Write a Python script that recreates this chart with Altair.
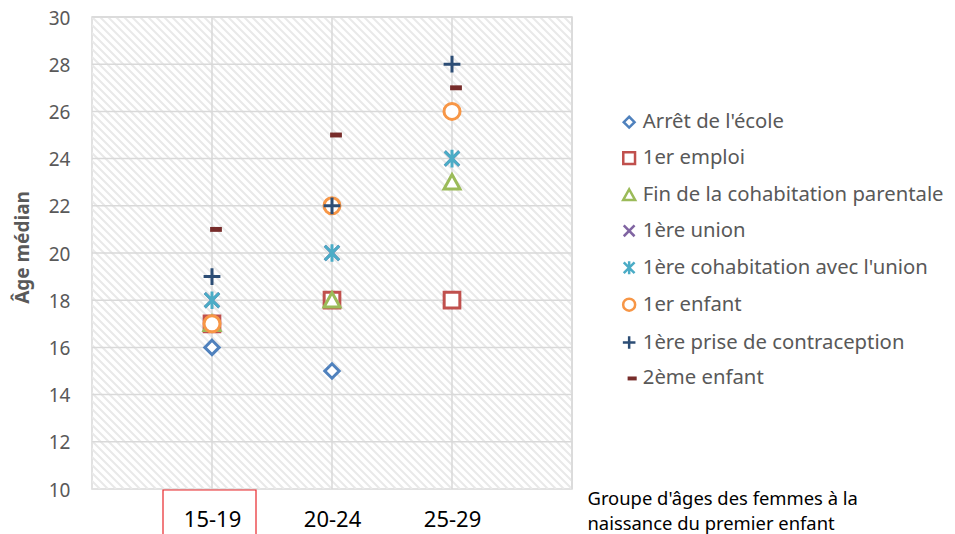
import json
import altair as alt
import pandas as pd

# ---------------- data ----------------
groups = ["15-19", "20-24", "25-29"]
series = [
    "Arrêt de l'école",
    "1er emploi",
    "Fin de la cohabitation parentale",
    "1ère union",
    "1ère cohabitation avec l'union",
    "1er enfant",
    "1ère prise de contraception",
    "2ème enfant",
]
arret_ecole = [16, 15, 18]
premier_emploi = [17, 18, 18]
fin_cohabitation = [17, 18, 23]
premiere_union = [18, 20, 24]
premiere_cohabitation = [18, 20, 24]
premier_enfant = [17, 22, 26]
contraception = [19, 22, 28]
deuxieme_enfant = [21, 25, 27]
y_ticks = [10, 12, 14, 16, 18, 20, 22, 24, 26, 28, 30]

# ---------------- styles ----------------
colors = ["#4F81BD", "#C0504D", "#9BBB59", "#8064A2", "#4BACC6", "#F79646", "#2C4D75", "#772C2A"]
fills = ["white", "white", "white", "white", "white", "white", "white", "#772C2A"]
shapes = [
    "M0,-0.9L0.9,0L0,0.9L-0.9,0Z",                                   # diamond
    "M-0.98,-0.98L0.98,-0.98L0.98,0.98L-0.98,0.98Z",                  # square
    "M0,-0.95L1,0.85L-1,0.85Z",                                       # triangle
    "M-0.9,-0.9L0.9,0.9M0.9,-0.9L-0.9,0.9",                           # x
    "M-0.9,-0.9L0.9,0.9M0.9,-0.9L-0.9,0.9M0,-1.1L0,1.1",              # star
    "circle",                                                         # circle
    "M-1.05,0L1.05,0M0,-1.05L0,1.05",                                 # plus
    "M-0.05,-0.12L1.05,-0.12L1.05,0.12L-0.05,0.12Z",                  # dash
]

W, H = 480, 472
FONT = "Noto Sans"

values = [arret_ecole, premier_emploi, fin_cohabitation, premiere_union,
          premiere_cohabitation, premier_enfant, contraception, deuxieme_enfant]
rows = []
for s, vals in zip(series, values):
    for i, (g, v) in enumerate(zip(groups, vals)):
        rows.append({"series": s, "group": g, "pos": i + 1, "age": v})
df = pd.DataFrame(rows)

xscale = alt.Scale(domain=[0, len(groups) + 1], nice=False, zero=False)
yscale = alt.Scale(domain=[y_ticks[0], y_ticks[-1]], nice=False, zero=False)

label_expr = json.dumps([""] + groups + [""]) + "[datum.value]"

x_axis = alt.Axis(
    values=[1, 2, 3],
    labelExpr=label_expr,
    grid=False,
    ticks=False,
    domain=False,
    labelFont=FONT,
    labelFontSize=22,
    labelColor="#000000",
    labelPadding=20,
    title=["Groupe d'âges des femmes à la", "naissance du premier enfant"],
    titleFont=FONT,
    titleFontSize=18.4,
    titleFontWeight="normal",
    titleColor="#000000",
    titleX=495,
    titleY=0,
    titleAlign="left",
    titleAnchor="start",
    titleBaseline="top",
    titleLineHeight=25,
)
y_axis = alt.Axis(
    values=y_ticks,
    grid=False,
    ticks=False,
    domain=False,
    labelFont=FONT,
    labelFontSize=19,
    labelColor="#595959",
    labelPadding=22,
    labelBaseline="alphabetic",
    labelOffset=7,
    title="Âge médian",
    titleFont=FONT,
    titleFontSize=19,
    titleFontWeight="bold",
    titleColor="#595959",
    titleX=-70,
    titleY=230,
    titleAngle=-90,
    titleAlign="center",
    titleBaseline="middle",
)

# decorative diagonal hatch of the plot background
x_units_per_px = (len(groups) + 1) / W
span = H * x_units_per_px
hatch_rows = []
k = -span
while k < len(groups) + 1:
    hatch_rows.append({"pos": k, "pos2": k + span, "age": y_ticks[-1], "age2": y_ticks[0]})
    k += 8 * x_units_per_px
hatch_df = pd.DataFrame(hatch_rows)

hatch = alt.Chart(hatch_df).mark_rule(color="#e9e9e9", strokeWidth=2.0, clip=True).encode(
    x=alt.X("pos:Q", scale=xscale, axis=x_axis),
    x2="pos2:Q",
    y=alt.Y("age:Q", scale=yscale, axis=y_axis),
    y2="age2:Q",
)

hgrid = alt.Chart(pd.DataFrame({"age": y_ticks[1:]})).mark_rule(color="#d9d9d9", strokeWidth=1.5).encode(
    y=alt.Y("age:Q", scale=yscale, axis=y_axis)
)
vgrid = alt.Chart(pd.DataFrame({"pos": list(range(1, len(groups) + 2))})).mark_rule(
    color="#d9d9d9", strokeWidth=1.5
).encode(x=alt.X("pos:Q", scale=xscale, axis=x_axis))

points = alt.Chart(df).mark_point(
    filled=False, opacity=1, fillOpacity=1, strokeWidth=3, size=256
).encode(
    x=alt.X("pos:Q", scale=xscale, axis=x_axis),
    y=alt.Y("age:Q", scale=yscale, axis=y_axis),
    stroke=alt.Stroke("series:N", scale=alt.Scale(domain=series, range=colors), legend=alt.Legend(title=None)),
    fill=alt.Fill("series:N", scale=alt.Scale(domain=series, range=fills), legend=alt.Legend(title=None)),
    shape=alt.Shape("series:N", scale=alt.Scale(domain=series, range=shapes), legend=alt.Legend(title=None)),
)

red_box = alt.Chart(pd.DataFrame({"d": [0]})).mark_rect(
    fill=None, stroke="#e8262a", strokeWidth=1.2
).encode(
    x=alt.value(71), x2=alt.value(164), y=alt.value(473), y2=alt.value(540)
)

chart = alt.layer(hatch, hgrid, vgrid, points, red_box).properties(
    width=W,
    height=H,
    padding={"left": 84, "top": 9, "right": 375, "bottom": 45},
    autosize=alt.AutoSizeParams(type="none"),
    background="white",
).configure_view(
    stroke="#d9d9d9", strokeWidth=1.5
).configure_legend(
    orient="none",
    legendX=527,
    legendY=95,
    padding=0,
    symbolSize=144,
    symbolStrokeWidth=2.5,
    labelFont=FONT,
    labelFontSize=20.3,
    labelColor="#595959",
    labelOffset=3.5,
    rowPadding=13.9,
    labelLimit=400,
)

chart.save("out.html", embed_options={"renderer": "svg", "actions": False})
